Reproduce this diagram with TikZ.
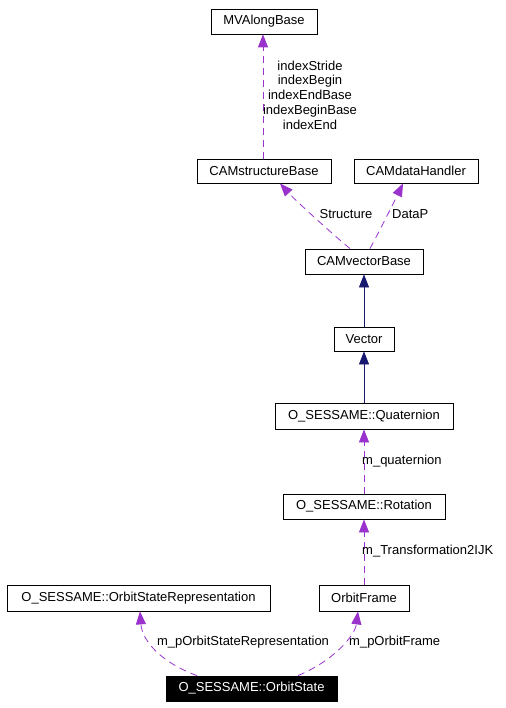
\documentclass[tikz,border=0pt]{standalone}
\usepackage{fontspec}
\setmainfont{Liberation Sans}
\usetikzlibrary{arrows.meta,calc}
\definecolor{dpurple}{HTML}{9A32CD}
\definecolor{dblue}{HTML}{191970}
\begin{document}
\begin{tikzpicture}[x=1pt,y=-1pt,
  every node/.style={font=\fontsize{13}{14.7}\selectfont, inner sep=0pt},
  cls/.style={draw=black, line width=0.8pt, minimum height=25pt},
  cur/.style={cls, fill=black, text=white},
  uses/.style={draw=dpurple, line width=0.8pt, dash pattern=on 7pt off 5pt, -{Triangle[length=13pt,width=10pt,fill=dpurple]}},
  inh/.style={draw=dblue, line width=0.8pt, -{Triangle[length=13pt,width=10pt,fill=dblue]}},
  lbl/.style={align=center}]
\useasboundingbox (0,0) rectangle (505,708);
\node[cls, minimum width=106pt] (mva) at (264,21.5) {MVAlongBase};
\node[cls, minimum width=134pt, minimum height=24pt] (csb) at (264,171) {CAMstructureBase};
\node[cls, minimum width=124pt, minimum height=24pt] (cdh) at (416,171) {CAMdataHandler};
\node[cls, minimum width=118pt] (cvb) at (364,261.5) {CAMvectorBase};
\node[cls, minimum width=60pt, minimum height=24pt] (vec) at (364,339) {Vector};
\node[cls, minimum width=178pt, minimum height=26pt] (qua) at (364,416) {O\_SESSAME::Quaternion};
\node[cls, minimum width=162pt] (rot) at (364,506.5) {O\_SESSAME::Rotation};
\node[cls, minimum width=263pt, minimum height=26pt] (osr) at (138.5,598) {O\_SESSAME::OrbitStateRepresentation};
\node[cls, minimum width=90pt, minimum height=26pt] (ofr) at (364,598) {OrbitFrame};
\node[cur, minimum width=171pt] (ost) at (251.5,688.5) {O\_SESSAME::OrbitState};

\draw[uses] ($(csb.north)+(-1,0)$) -- ($(mva.south)+(-1,0)$);
\node[lbl] (lmva) at (310,95) {indexStride\\indexBegin\\indexEndBase\\indexBeginBase\\indexEnd};

\draw[uses] ($(cvb.north)+(-14,0)$) .. controls (330,232) and (295,200) .. ($(csb.south)+(16,0)$);
\node (lstr) at (346,214) {Structure};
\draw[uses] ($(cvb.north)+(6,0)$) .. controls (380,230) and (395,200) .. ($(cdh.south)+(-13,0)$);
\node[anchor=west] (ldat) at (392,214) {DataP};

\draw[inh] (vec.north) -- (cvb.south);
\draw[inh] (qua.north) -- (vec.south);

\draw[uses] (rot.north) -- (qua.south);
\node[anchor=west] (lq) at (362,461) {m\_quaternion};
\draw[uses] (ofr.north) -- (rot.south);
\node[anchor=west] (lt) at (362,551) {m\_Transformation2IJK};

\draw[uses] ($(ost.north)+(-54.5,0)$) .. controls (160,662) and (142,640) .. ($(osr.south)+(1.5,0)$);
\node (lo1) at (243,642) {m\_pOrbitStateRepresentation};
\draw[uses] ($(ost.north)+(46.5,0)$) .. controls (335,660) and (355,635) .. ($(ofr.south)+(-6,0)$);
\node[anchor=west] (lo2) at (349,642) {m\_pOrbitFrame};
\end{tikzpicture}
\end{document}
